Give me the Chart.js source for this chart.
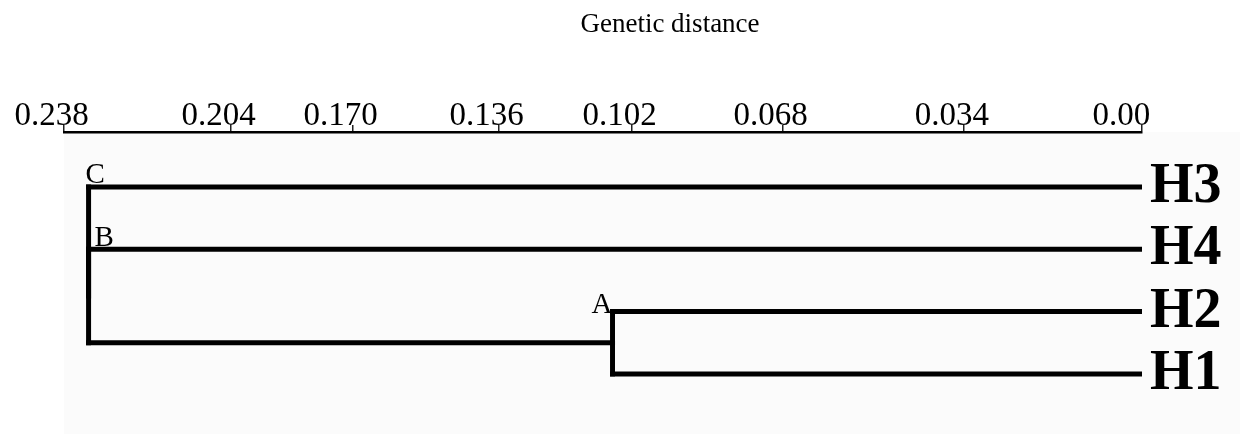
<!DOCTYPE html>
<html>
<head>
<meta charset="utf-8">
<script src="https://cdn.jsdelivr.net/npm/chart.js@4.4.0/dist/chart.umd.min.js"></script>
<style>
  body { margin: 0; background: #fff; }
  #wrap { width: 1240px; height: 434px; position: relative; }
</style>
</head>
<body>
<div id="wrap"><canvas id="treeChart"></canvas></div>
<script>
// leaves, top to bottom
const leafNames = ['H3', 'H4', 'H2', 'H1'];
const leafDist = [0, 0, 0, 0];
// internal nodes of the tree
const nodeNames = ['A', 'B', 'C'];
const nodeDist = [0.107, 0.233, 0.233];
const nodeChildren = [['H2', 'H1'], ['H4', 'A'], ['H3', 'B']];
// distance axis
const tickValues = [0.238, 0.204, 0.170, 0.136, 0.102, 0.068, 0.034, 0];
const tickLabels = ['0.238', '0.204', '0.170', '0.136', '0.102', '0.068', '0.034', '0.00'];
const axisTitle = 'Genetic distance';

// the printed scale is not evenly spaced, so map each tick to where it sits along the axis
class WarpedScale extends Chart.LinearScale {
    _frac(value) {
        const vals = this.options.stopValues, fr = this.options.stopFractions;
        for (let i = 0; i < vals.length - 1; i++) {
            const a = vals[i], b = vals[i + 1];
            if ((value <= a && value >= b) || i === vals.length - 2) {
                return fr[i] + (value - a) / (b - a) * (fr[i + 1] - fr[i]);
            }
        }
        return 0;
    }
    getPixelForValue(value) {
        return this.left + this._frac(value) * this.width;
    }
    getValueForPixel(pixel) {
        const vals = this.options.stopValues, fr = this.options.stopFractions;
        const f = (pixel - this.left) / this.width;
        for (let i = 0; i < fr.length - 1; i++) {
            if (f <= fr[i + 1] || i === fr.length - 2) {
                return vals[i] + (f - fr[i]) / (fr[i + 1] - fr[i]) * (vals[i + 1] - vals[i]);
            }
        }
        return vals[0];
    }
}
WarpedScale.id = 'warped';
WarpedScale.defaults = Chart.LinearScale.defaults;
Chart.register(WarpedScale);

// rows: leaves get 4..1, nodes sit halfway between their children
const rowOf = {};
const distOf = {};
leafNames.forEach((n, i) => { rowOf[n] = leafNames.length - i; distOf[n] = leafDist[i]; });
nodeNames.forEach((n, i) => {
    const rows = nodeChildren[i].map(c => rowOf[c]);
    rowOf[n] = (Math.min(...rows) + Math.max(...rows)) / 2;
    distOf[n] = nodeDist[i];
});

const segments = [];
nodeNames.forEach((n, i) => {
    const d = distOf[n];
    const rows = nodeChildren[i].map(c => rowOf[c]);
    segments.push([{ x: d, y: Math.min(...rows) }, { x: d, y: Math.max(...rows) }]);
    nodeChildren[i].forEach(c => {
        if (distOf[c] !== d) segments.push([{ x: d, y: rowOf[c] }, { x: distOf[c], y: rowOf[c] }]);
    });
});

const labelPlugin = {
    id: 'treeLabels',
    beforeDraw(chart) {
        // faint grey sheet under the tree, as in the scan
        const a = chart.chartArea, c = chart.ctx;
        c.save();
        c.fillStyle = '#fbfbfb';
        c.fillRect(a.left, a.top, chart.width - a.left, chart.height - a.top);
        c.restore();
    },
    afterDraw(chart) {
        const ctx = chart.ctx;
        const xs = chart.scales.x, ys = chart.scales.y;
        ctx.save();
        ctx.fillStyle = '#000';

        // title
        ctx.font = '27px "Liberation Serif"';
        ctx.textAlign = 'center';
        ctx.textBaseline = 'alphabetic';
        ctx.fillText(axisTitle, 670, 32);

        // tick labels, printed with the tick under the 4th character
        ctx.font = '33px "Liberation Serif"';
        ctx.textAlign = 'left';
        xs.ticks.forEach((t, i) => {
            const label = tickLabels[i];
            const px = xs.getPixelForTick(i);
            const lead = ctx.measureText(label.slice(0, 3)).width + ctx.measureText(label[3]).width / 2;
            ctx.fillText(label, px - lead, xs.bottom - 7);
        });

        // leaf labels
        ctx.font = 'bold 56px "Liberation Serif"';
        leafNames.forEach(n => {
            ctx.fillText(n, xs.getPixelForValue(distOf[n]) + 8, ys.getPixelForValue(rowOf[n]) + 15);
        });

        // node labels
        ctx.font = '29px "Liberation Serif"';
        const a = 'A', b = 'B', c = 'C';
        ctx.textAlign = 'right';
        ctx.fillText(a, xs.getPixelForValue(distOf[a]), ys.getPixelForValue(rowOf['H2']) + 1);
        ctx.textAlign = 'left';
        ctx.fillText(b, xs.getPixelForValue(distOf[b]) + 6, ys.getPixelForValue(rowOf['H4']) - 3);
        ctx.fillText(c, xs.getPixelForValue(distOf[c]) - 3, ys.getPixelForValue(rowOf['H3']) - 4);
        ctx.restore();
    }
};

const ctx = document.getElementById('treeChart').getContext('2d');
new Chart(ctx, {
    type: 'scatter',
    data: {
        datasets: segments.map(seg => ({
            data: seg,
            showLine: true,
            borderColor: '#000',
            borderWidth: 5,
            borderCapStyle: 'square',
            pointRadius: 0,
            fill: false
        }))
    },
    options: {
        responsive: true,
        maintainAspectRatio: false,
        animation: false,
        layout: { padding: { top: 36, left: 64, right: 98, bottom: 14 } },
        plugins: {
            legend: { display: false },
            tooltip: { enabled: false },
            title: { display: false }
        },
        scales: {
            x: {
                type: 'warped',
                position: 'top',
                min: 0,
                max: 0.238,
                stopValues: tickValues,
                stopFractions: [0, 0.155, 0.268, 0.4035, 0.527, 0.667, 0.835, 1],
                afterBuildTicks: (scale) => { scale.ticks = tickValues.map(v => ({ value: v })); },
                afterFit: (scale) => { scale.height = 96; },
                ticks: { display: false },
                grid: { drawOnChartArea: false, drawTicks: true, tickLength: 7, color: '#222', lineWidth: 1.5 },
                border: { display: true, color: '#000', width: 2.5 }
            },
            y: {
                type: 'linear',
                display: false,
                min: 0.26,
                max: 4.883
            }
        }
    },
    plugins: [labelPlugin]
});
</script>
</body>
</html>
